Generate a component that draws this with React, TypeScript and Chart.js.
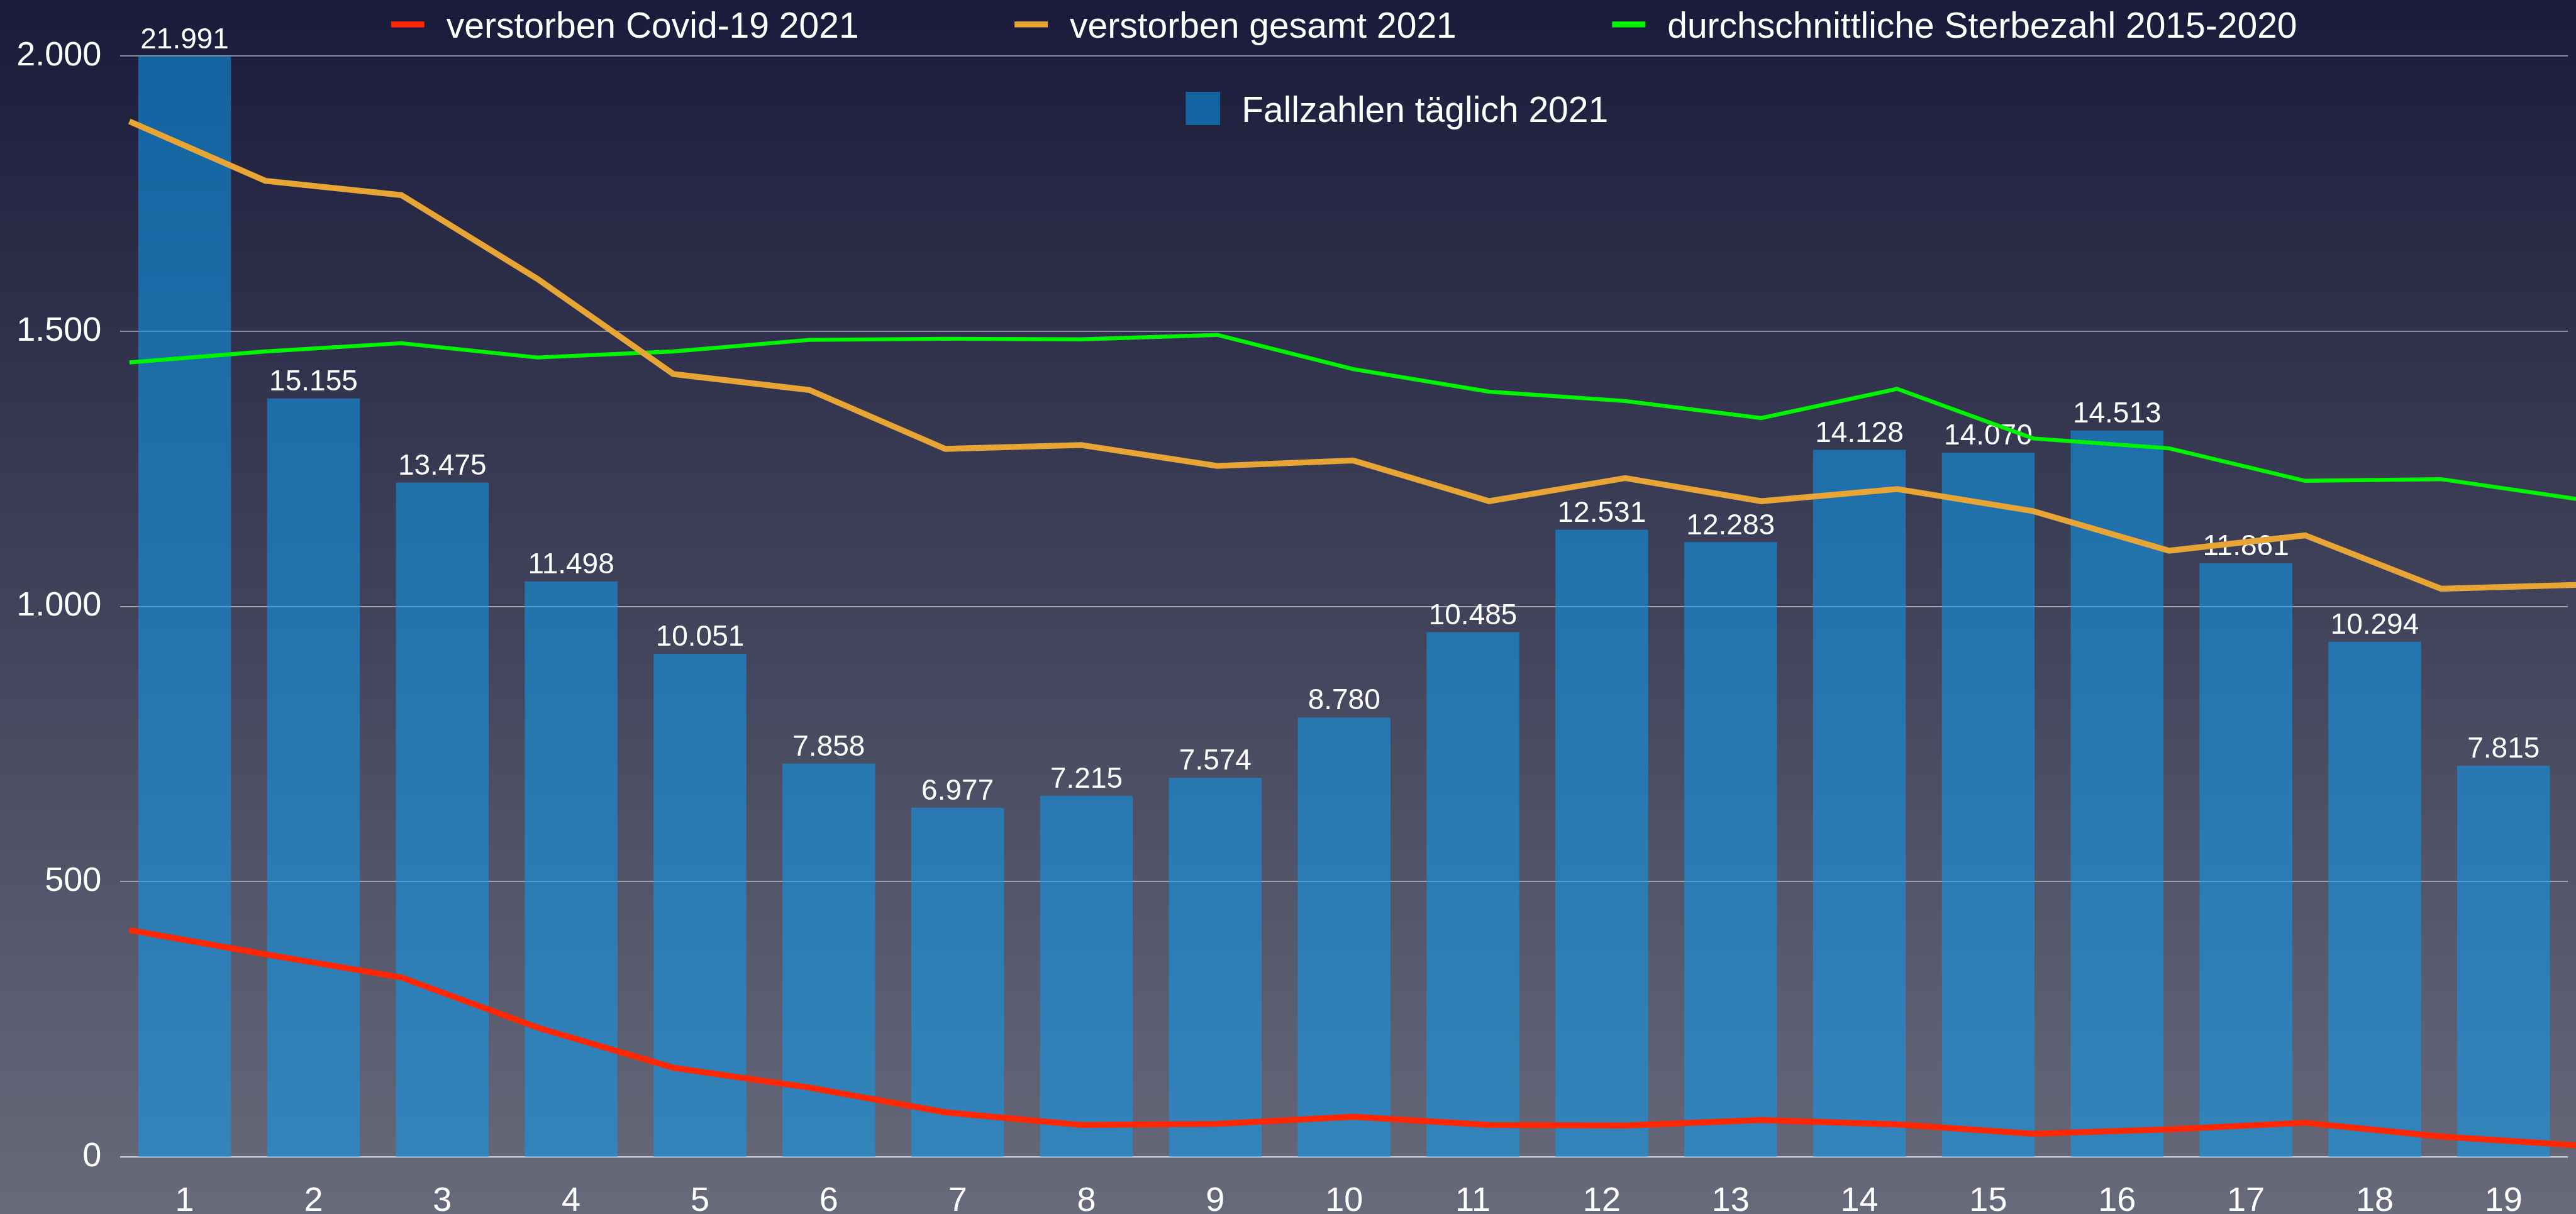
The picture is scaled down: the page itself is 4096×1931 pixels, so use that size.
import React, { useEffect, useRef } from 'react';
import { Chart, registerables } from 'chart.js';

Chart.register(...registerables);

const W = 4096;
const H = 1931;
const S = W / 4799;
const FONT = "'Liberation Sans', Arial, Helvetica, sans-serif";

// ---- data ----
const days = ['1', '2', '3', '4', '5', '6', '7', '8', '9', '10', '11', '12', '13', '14', '15', '16', '17', '18', '19'];
const dayNumbers = [1, 2, 3, 4, 5, 6, 7, 8, 9, 10, 11, 12, 13, 14, 15, 16, 17, 18, 19];
const fallzahlen = [21991, 15155, 13475, 11498, 10051, 7858, 6977, 7215, 7574, 8780, 10485, 12531, 12283, 14128, 14070, 14513, 11861, 10294, 7815];
const verstorbenCovid = [412, 368, 326, 235, 162, 126, 81, 58, 60, 73, 58, 57, 67, 59, 42, 50, 62, 37, 21];
const verstorbenGesamt = [1881, 1773, 1747, 1595, 1422, 1393, 1286, 1293, 1255, 1265, 1191, 1233, 1191, 1213, 1173, 1101, 1129, 1032, 1039];
const durchschnitt = [1443, 1463, 1478, 1452, 1463, 1484, 1486, 1485, 1493, 1431, 1390, 1373, 1342, 1395, 1305, 1287, 1228, 1231, 1195];
const yTickValues = [0, 500, 1000, 1500, 2000];

const lineLabels = ['verstorben Covid-19 2021', 'verstorben gesamt 2021', 'durchschnittliche Sterbezahl 2015-2020'];
const lineColors = ['#ff2600', '#e6a534', '#00f400'];
const barLabel = 'Fallzahlen täglich 2021';
const barColor = 'rgba(11,156,243,0.55)';

const fmt = (v: number) => String(Math.round(v)).replace(/\B(?=(\d{3})+(?!\d))/g, '.');

// geometry (reference px * S)
const plotLeft = 224 * S;
const plotRight = 4784 * S;
const plotTop = 104 * S;
const plotBottom = 2156 * S;
const unit = (4784 - 224) / 18;
const x2Min = 1 - (241 - 224) / unit;
const x2Max = x2Min + 18;

const backgroundPlugin = {
  id: 'bgGradient',
  beforeDraw(chart: any) {
    const { ctx, width, height } = chart;
    const g = ctx.createLinearGradient(0, 0, 0, height);
    g.addColorStop(0, '#1a1b3a');
    g.addColorStop(1, '#686a7b');
    ctx.save();
    ctx.fillStyle = g;
    ctx.fillRect(0, 0, width, height);
    ctx.restore();
  },
};

const barLabelPlugin = {
  id: 'barLabels',
  afterDatasetDraw(chart: any, args: any) {
    if (args.index !== 3) return;
    const { ctx } = chart;
    ctx.save();
    ctx.font = `${Math.round(54 * S)}px ${FONT}`;
    ctx.fillStyle = '#ffffff';
    ctx.textAlign = 'center';
    ctx.textBaseline = 'alphabetic';
    args.meta.data.forEach((el: any, i: number) => {
      ctx.fillText(fmt(fallzahlen[i]), el.x, el.y - 15 * S);
    });
    ctx.restore();
  },
};

const legendPlugin = {
  id: 'customLegend',
  afterDraw(chart: any) {
    const { ctx, chartArea } = chart;
    const cx = (chartArea.left + chartArea.right) / 2;
    ctx.save();
    ctx.font = `${Math.round(67 * S)}px ${FONT}`;
    ctx.textAlign = 'left';
    ctx.textBaseline = 'alphabetic';
    const markerW = 62 * S;
    const markerH = 11 * S;
    const markerGap = 41 * S;
    const itemGap = 290 * S;
    const widths = lineLabels.map((l) => ctx.measureText(l).width);
    const total = widths.reduce((a, b) => a + b, 0) + lineLabels.length * (markerW + markerGap) + (lineLabels.length - 1) * itemGap;
    let x = cx - total / 2;
    const markerCy = 45.5 * S;
    const baseline = 70 * S;
    lineLabels.forEach((label, i) => {
      ctx.fillStyle = lineColors[i];
      ctx.fillRect(x, markerCy - markerH / 2, markerW, markerH);
      x += markerW + markerGap;
      ctx.fillStyle = '#ffffff';
      ctx.fillText(label, x, baseline);
      x += widths[i] + itemGap;
    });
    const bx = cx - 295 * S;
    ctx.fillStyle = barColor;
    ctx.fillRect(bx, 171 * S, 64 * S, 62 * S);
    ctx.fillStyle = '#ffffff';
    ctx.fillText(barLabel, bx + 104 * S, 227 * S);
    ctx.restore();
  },
};

export default function App() {
  const ref = useRef<HTMLCanvasElement>(null);

  useEffect(() => {
    const canvas = ref.current;
    if (!canvas) return;
    Chart.defaults.font.family = FONT;
    const lineSets = [verstorbenCovid, verstorbenGesamt, durchschnitt];
    const lineWidths = [11 * S, 11 * S, 7.5 * S];
    const chart = new Chart(canvas, {
      type: 'bar',
      data: {
        labels: days,
        datasets: [
          ...lineSets.map((vals, k) => ({
            type: 'line' as const,
            label: lineLabels[k],
            data: vals.map((v, i) => ({ x: dayNumbers[i], y: v })),
            borderColor: lineColors[k],
            backgroundColor: lineColors[k],
            borderWidth: lineWidths[k],
            pointRadius: 0,
            tension: 0,
            fill: false,
            clip: false as any,
            xAxisID: 'x2',
            yAxisID: 'y',
          })),
          {
            type: 'bar' as const,
            label: barLabel,
            data: fallzahlen,
            backgroundColor: barColor,
            borderWidth: 0,
            grouped: false,
            barPercentage: 0.9,
            categoryPercentage: 0.8,
            xAxisID: 'x',
            yAxisID: 'y2',
          },
        ] as any,
      },
      options: {
        responsive: false,
        maintainAspectRatio: false,
        animation: false,
        devicePixelRatio: 1,
        layout: { padding: { top: plotTop, right: W - plotRight, left: 0, bottom: 0 } },
        plugins: { legend: { display: false }, tooltip: { enabled: false } },
        scales: {
          x: {
            type: 'category',
            offset: true,
            grid: { display: false },
            border: { display: false },
            ticks: {
              color: '#ffffff',
              font: { size: Math.round(63 * S), family: FONT },
              padding: 31,
              maxRotation: 0,
              autoSkip: false,
            },
            afterFit: (s: any) => {
              s.height = H - plotBottom;
            },
          },
          x2: {
            type: 'linear',
            display: false,
            offset: false,
            bounds: 'data',
            grace: 0,
            beginAtZero: false,
            min: x2Min,
            max: x2Max,
            grid: { offset: false },
          },
          y: {
            type: 'linear',
            min: yTickValues[0],
            max: yTickValues[yTickValues.length - 1],
            z: 1,
            border: { display: false },
            grid: {
              drawTicks: false,
              color: (c: any) => (c.tick && c.tick.value === 0 ? 'rgba(215,215,215,0.85)' : 'rgba(235,235,240,0.6)'),
              lineWidth: (c: any) => (c.tick && c.tick.value === 0 ? 2.6 : 1.7),
            },
            ticks: {
              stepSize: 500,
              color: '#ffffff',
              font: { size: Math.round(63 * S), family: FONT },
              padding: plotLeft - 189 * S,
              callback: (v: any) => fmt(Number(v)),
            },
            afterBuildTicks: (s: any) => {
              s.ticks = yTickValues.map((v) => ({ value: v }));
            },
            afterFit: (s: any) => {
              s.width = plotLeft;
            },
          },
          y2: {
            type: 'linear',
            display: false,
            min: 0,
            max: 22000,
          },
        },
      } as any,
      plugins: [backgroundPlugin, barLabelPlugin, legendPlugin],
    });
    return () => chart.destroy();
  }, []);

  return (
    <div style={{ position: 'fixed', left: 0, top: 0, width: W, height: H, overflow: 'hidden', background: '#1a1b3a' }}>
      <canvas ref={ref} width={W} height={H} style={{ display: 'block', width: W, height: H }} />
    </div>
  );
}
